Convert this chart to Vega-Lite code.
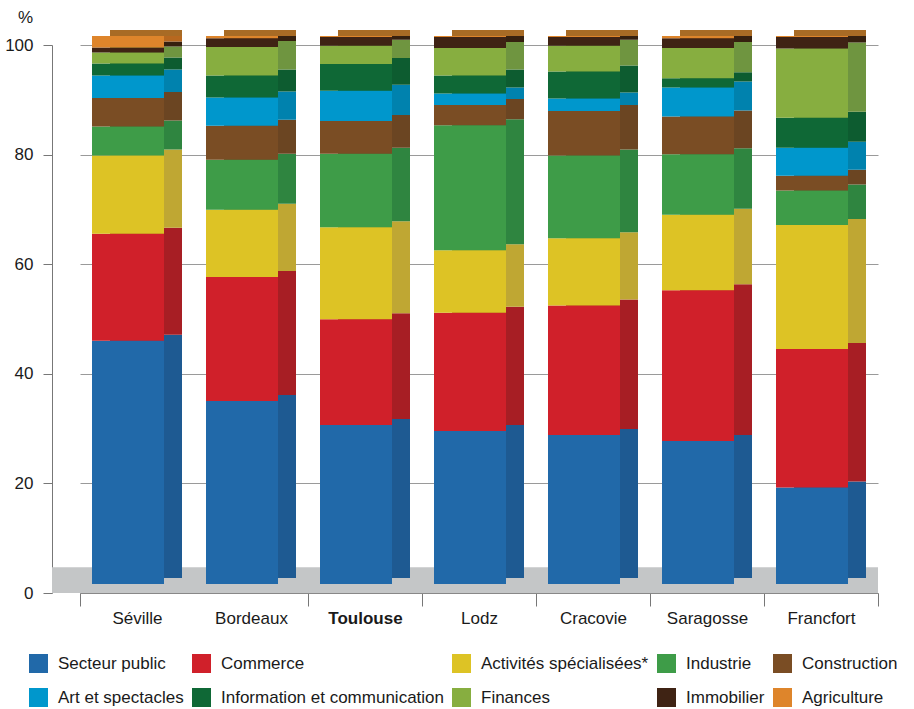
{
  "$schema": "https://vega.github.io/schema/vega-lite/v6.json",
  "width": 826,
  "height": 548,
  "autosize": {"type": "none"},
  "padding": {"left": 52, "top": 45, "right": 36, "bottom": 116},
  "config": {"view": {"stroke": null}, "font": "Liberation Sans", "axis": {"labelColor": "#1a1a1a", "titleColor": "#1a1a1a"}, "legend": {"labelColor": "#1a1a1a"}},
  "data": {"values": [
    {"city": "Séville", "sector": "Secteur public", "value": 44.4},
    {"city": "Séville", "sector": "Commerce", "value": 19.5},
    {"city": "Séville", "sector": "Activités spécialisées*", "value": 14.3},
    {"city": "Séville", "sector": "Industrie", "value": 5.3},
    {"city": "Séville", "sector": "Construction", "value": 5.2},
    {"city": "Séville", "sector": "Art et spectacles", "value": 4.1},
    {"city": "Séville", "sector": "Information et communication", "value": 2.2},
    {"city": "Séville", "sector": "Finances", "value": 2.0},
    {"city": "Séville", "sector": "Immobilier", "value": 0.9},
    {"city": "Séville", "sector": "Agriculture", "value": 2.1},
    {"city": "Bordeaux", "sector": "Secteur public", "value": 33.4},
    {"city": "Bordeaux", "sector": "Commerce", "value": 22.6},
    {"city": "Bordeaux", "sector": "Activités spécialisées*", "value": 12.3},
    {"city": "Bordeaux", "sector": "Industrie", "value": 9.1},
    {"city": "Bordeaux", "sector": "Construction", "value": 6.2},
    {"city": "Bordeaux", "sector": "Art et spectacles", "value": 5.2},
    {"city": "Bordeaux", "sector": "Information et communication", "value": 4.0},
    {"city": "Bordeaux", "sector": "Finances", "value": 5.2},
    {"city": "Bordeaux", "sector": "Immobilier", "value": 1.6},
    {"city": "Bordeaux", "sector": "Agriculture", "value": 0.4},
    {"city": "Toulouse", "sector": "Secteur public", "value": 29.0},
    {"city": "Toulouse", "sector": "Commerce", "value": 19.3},
    {"city": "Toulouse", "sector": "Activités spécialisées*", "value": 16.8},
    {"city": "Toulouse", "sector": "Industrie", "value": 13.4},
    {"city": "Toulouse", "sector": "Construction", "value": 6.0},
    {"city": "Toulouse", "sector": "Art et spectacles", "value": 5.5},
    {"city": "Toulouse", "sector": "Information et communication", "value": 4.9},
    {"city": "Toulouse", "sector": "Finances", "value": 3.3},
    {"city": "Toulouse", "sector": "Immobilier", "value": 1.6},
    {"city": "Toulouse", "sector": "Agriculture", "value": 0.2},
    {"city": "Lodz", "sector": "Secteur public", "value": 27.9},
    {"city": "Lodz", "sector": "Commerce", "value": 21.6},
    {"city": "Lodz", "sector": "Activités spécialisées*", "value": 11.4},
    {"city": "Lodz", "sector": "Industrie", "value": 22.8},
    {"city": "Lodz", "sector": "Construction", "value": 3.7},
    {"city": "Lodz", "sector": "Art et spectacles", "value": 2.1},
    {"city": "Lodz", "sector": "Information et communication", "value": 3.3},
    {"city": "Lodz", "sector": "Finances", "value": 5.0},
    {"city": "Lodz", "sector": "Immobilier", "value": 2.0},
    {"city": "Lodz", "sector": "Agriculture", "value": 0.2},
    {"city": "Cracovie", "sector": "Secteur public", "value": 27.2},
    {"city": "Cracovie", "sector": "Commerce", "value": 23.6},
    {"city": "Cracovie", "sector": "Activités spécialisées*", "value": 12.3},
    {"city": "Cracovie", "sector": "Industrie", "value": 15.1},
    {"city": "Cracovie", "sector": "Construction", "value": 8.1},
    {"city": "Cracovie", "sector": "Art et spectacles", "value": 2.3},
    {"city": "Cracovie", "sector": "Information et communication", "value": 4.9},
    {"city": "Cracovie", "sector": "Finances", "value": 4.7},
    {"city": "Cracovie", "sector": "Immobilier", "value": 1.6},
    {"city": "Cracovie", "sector": "Agriculture", "value": 0.2},
    {"city": "Saragosse", "sector": "Secteur public", "value": 26.1},
    {"city": "Saragosse", "sector": "Commerce", "value": 27.5},
    {"city": "Saragosse", "sector": "Activités spécialisées*", "value": 13.8},
    {"city": "Saragosse", "sector": "Industrie", "value": 11.0},
    {"city": "Saragosse", "sector": "Construction", "value": 6.9},
    {"city": "Saragosse", "sector": "Art et spectacles", "value": 5.3},
    {"city": "Saragosse", "sector": "Information et communication", "value": 1.7},
    {"city": "Saragosse", "sector": "Finances", "value": 5.5},
    {"city": "Saragosse", "sector": "Immobilier", "value": 1.8},
    {"city": "Saragosse", "sector": "Agriculture", "value": 0.4},
    {"city": "Francfort", "sector": "Secteur public", "value": 17.6},
    {"city": "Francfort", "sector": "Commerce", "value": 25.3},
    {"city": "Francfort", "sector": "Activités spécialisées*", "value": 22.6},
    {"city": "Francfort", "sector": "Industrie", "value": 6.3},
    {"city": "Francfort", "sector": "Construction", "value": 2.7},
    {"city": "Francfort", "sector": "Art et spectacles", "value": 5.1},
    {"city": "Francfort", "sector": "Information et communication", "value": 5.5},
    {"city": "Francfort", "sector": "Finances", "value": 12.6},
    {"city": "Francfort", "sector": "Immobilier", "value": 2.1},
    {"city": "Francfort", "sector": "Agriculture", "value": 0.2}
  ]},
  "transform": [
    {"calculate": "indexof(['Secteur public', 'Commerce', 'Activités spécialisées*', 'Industrie', 'Construction', 'Art et spectacles', 'Information et communication', 'Finances', 'Immobilier', 'Agriculture'], datum.sector)", "as": "rank"}
  ],
  "layer": [
    {
      "transform": [{"filter": "datum.city === 'Séville' && datum.sector === 'Agriculture'"}],
      "mark": {"type": "rect", "color": "#C4C6C7"},
      "encoding": {
        "y": {"datum": 0, "type": "quantitative", "scale": {"domain": [0, 100], "nice": false},
          "axis": {"title": "%", "titleAngle": 0, "titleX": -27, "titleY": -19, "titleAlign": "center", "titleFontSize": 17, "titleFontWeight": "normal",
            "values": [0, 20, 40, 60, 80, 100], "tickSize": 9, "labelFontSize": 17, "labelPadding": 10,
            "domainColor": "#777777", "tickColor": "#777777", "grid": true, "gridColor": "#9A9A9A"}},
        "y2": {"datum": 4.7}
      }
    },
    {
      "encoding": {
        "x": {"field": "city", "type": "nominal", "sort": null,
          "scale": {"range": [28, 826], "paddingInner": 0, "paddingOuter": 0},
          "axis": {"title": null, "labelAngle": 0, "tickBand": "extent", "tickSize": 13, "labelPadding": 4, "labelFontSize": 17,
            "domainColor": "#888888", "tickColor": "#777777", "zindex": 1,
            "tickOpacity": {"condition": {"test": "datum.value === 'Séville'", "value": 0}, "value": 1},
            "labelFontWeight": {"condition": {"test": "datum.value === 'Toulouse'", "value": "bold"}, "value": "normal"}}},
        "y": {"field": "value", "type": "quantitative", "scale": {"domain": [0, 100], "nice": false}},
        "order": {"field": "rank", "type": "quantitative", "sort": "ascending"}
      },
      "layer": [
        {
          "mark": {"type": "bar", "size": 72, "xOffset": 9, "x2Offset": 9, "yOffset": -15, "y2Offset": -15},
          "encoding": {
            "color": {"field": "sector", "type": "nominal",
              "sort": ["Secteur public", "Commerce", "Activités spécialisées*", "Industrie", "Construction", "Art et spectacles", "Information et communication", "Finances", "Immobilier", "Agriculture"],
              "scale": {"domain": ["Secteur public", "Commerce", "Activités spécialisées*", "Industrie", "Construction", "Art et spectacles", "Information et communication", "Finances", "Immobilier", "Agriculture"],
                "range": ["#1E5A92", "#A71E24", "#BFA733", "#2F8540", "#6B4522", "#0082AE", "#0D5C30", "#6F9540", "#36200F", "#B7681F"]},
              "legend": null}
          }
        },
        {
          "transform": [{"filter": "datum.sector === 'Agriculture'"}],
          "mark": {"type": "bar", "size": 72, "xOffset": 9, "x2Offset": 9, "yOffset": -15, "y2Offset": -15, "color": "#A86B25"},
          "encoding": {
            "y": {"datum": 100, "type": "quantitative"},
            "y2": {"datum": 98.9}
          }
        },
        {
          "mark": {"type": "bar", "size": 72, "xOffset": -9, "x2Offset": -9, "yOffset": -9, "y2Offset": -9},
          "encoding": {
            "color": {"field": "sector", "type": "nominal",
              "sort": ["Secteur public", "Commerce", "Activités spécialisées*", "Industrie", "Construction", "Art et spectacles", "Information et communication", "Finances", "Immobilier", "Agriculture"],
              "scale": {"domain": ["Secteur public", "Commerce", "Activités spécialisées*", "Industrie", "Construction", "Art et spectacles", "Information et communication", "Finances", "Immobilier", "Agriculture"],
                "range": ["#2169A9", "#D0202A", "#DDC325", "#3E9C48", "#7A4D24", "#0097CC", "#0F6836", "#87AE40", "#3F2314", "#DE852B"]},
              "legend": {"orient": "none", "legendX": -23, "legendY": 609, "columns": 5, "direction": "horizontal", "title": null,
                "symbolType": "square", "symbolSize": 361, "symbolStrokeWidth": 0, "labelFontSize": 17, "labelOffset": 10,
                "labelLimit": 300, "columnPadding": 8, "rowPadding": 15, "gridAlign": "each"}}
          }
        }
      ],
      "resolve": {"scale": {"color": "independent"}}
    }
  ]
}
